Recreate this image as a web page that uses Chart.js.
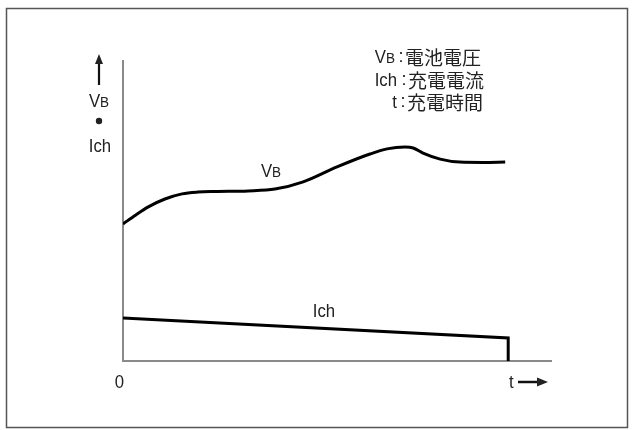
<!DOCTYPE html>
<html>
<head>
<meta charset="utf-8">
<script src="https://cdn.jsdelivr.net/npm/chart.js@4/dist/chart.umd.min.js"></script>
<style>
  html, body { margin: 0; padding: 0; background: #fff; }
  #wrap { width: 633px; height: 430px; position: relative; }
</style>
</head>
<body>
<div id="wrap"><canvas id="c" width="633" height="430"></canvas></div>
<script>
// Charging time (arbitrary units, 0..100) and values (arbitrary units, 0..100)
const vbTime  = [0, 3.0, 5.8, 9.8, 13.8, 17.5, 21.5, 29.2, 35.5, 42.1, 50.0, 57.7, 61.7, 65.9, 67.8, 70.1, 74.1, 78.7, 84.1, 89.3];
const vbValue = [45.7, 48.7, 51.3, 54.0, 55.7, 56.3, 56.5, 56.7, 57.3, 59.7, 64.7, 69.0, 70.7, 71.3, 71.0, 69.3, 67.3, 66.3, 66.2, 66.3];
const ichTime  = [0, 90, 90];
const ichValue = [14.3, 7.7, 0];

const legendLabels = ['VB', 'Ich', 't'];
const legendTexts  = ['電池電圧', '充電電流', '充電時間'];
const axisOrigin = '0';

const toPts = (xs, ys) => xs.map((x, i) => ({ x: x, y: ys[i] }));

const LATIN = '"Liberation Sans", Arial, Helvetica, sans-serif';
const CJK = '"Noto Sans CJK JP", "Noto Sans CJK SC", sans-serif';
const SX = 0.93;

function txt(ctx, s, x, y, size, align, font, sx) {
  ctx.save();
  ctx.translate(x, y);
  ctx.scale(sx, 1);
  ctx.font = size + 'px ' + font;
  ctx.textAlign = align;
  ctx.textBaseline = 'alphabetic';
  ctx.fillText(s, 0, 0);
  ctx.restore();
}

function drawVB(ctx, xRef, base, big, small, align) {
  ctx.font = big + 'px ' + LATIN;
  const wV = ctx.measureText('V').width * SX;
  ctx.font = small + 'px ' + LATIN;
  const wB = ctx.measureText('B').width * SX;
  const total = wV + wB;
  let x0;
  if (align === 'right') x0 = xRef - total;
  else if (align === 'center') x0 = xRef - total / 2;
  else x0 = xRef;
  txt(ctx, 'V', x0, base, big, 'left', LATIN, SX);
  txt(ctx, 'B', x0 + wV, base, small, 'left', LATIN, SX);
}

const decor = {
  id: 'decor',
  beforeDraw(chart) {
    const ctx = chart.ctx;
    ctx.save();
    ctx.fillStyle = '#fff';
    ctx.fillRect(0, 0, chart.width, chart.height);
    ctx.strokeStyle = '#555';
    ctx.lineWidth = 1.5;
    ctx.strokeRect(6.5, 8.5, 621, 419);
    ctx.restore();
  },
  afterDraw(chart) {
    const ctx = chart.ctx;
    ctx.save();
    ctx.fillStyle = '#222';
    ctx.strokeStyle = '#111';
    // up arrow on y axis side
    ctx.lineWidth = 2.2;
    ctx.beginPath();
    ctx.moveTo(99, 85); ctx.lineTo(99, 62); ctx.stroke();
    ctx.beginPath();
    ctx.moveTo(99, 54); ctx.lineTo(95, 64); ctx.lineTo(103, 64); ctx.closePath(); ctx.fill();
    // VB • Ich
    drawVB(ctx, 99, 107, 18, 14.5, 'center');
    ctx.beginPath(); ctx.arc(99, 121, 3.2, 0, Math.PI * 2); ctx.fill();
    txt(ctx, 'Ich', 100, 152, 18, 'center', LATIN, SX);

    // legend
    const bases = [63, 86, 108];
    const rights = [395, 397, 397];
    const colons = [401, 404, 403];
    const cjkX = [405, 408, 407];
    for (let i = 0; i < legendLabels.length; i++) {
      if (legendLabels[i] === 'VB') {
        drawVB(ctx, rights[i], bases[i], 18, 14.5, 'right');
      } else {
        txt(ctx, legendLabels[i], rights[i], bases[i], 18, 'right', LATIN, SX);
      }
      txt(ctx, ':', colons[i], bases[i] - 1, 18, 'center', LATIN, 1);
      txt(ctx, legendTexts[i], cjkX[i], bases[i] + 2, 19, 'left', CJK, 1);
    }

    // curve labels
    drawVB(ctx, 271, 177, 18, 14.5, 'center');
    txt(ctx, 'Ich', 324, 317, 18, 'center', LATIN, SX);

    // origin and t arrow
    txt(ctx, axisOrigin, 119.5, 388, 18, 'center', LATIN, SX);
    txt(ctx, 't', 509, 388, 18, 'left', LATIN, SX);
    ctx.lineWidth = 2.5;
    ctx.beginPath(); ctx.moveTo(518, 382); ctx.lineTo(540, 382); ctx.stroke();
    ctx.beginPath(); ctx.moveTo(548, 382); ctx.lineTo(537, 377.5); ctx.lineTo(537, 386.5); ctx.closePath(); ctx.fill();
    ctx.restore();
  }
};

new Chart(document.getElementById('c'), {
  type: 'line',
  data: {
    datasets: [
      { label: 'VB', data: toPts(vbTime, vbValue), borderColor: '#000', borderWidth: 3, pointRadius: 0, tension: 0.4, cubicInterpolationMode: 'monotone', fill: false },
      { label: 'Ich', data: toPts(ichTime, ichValue), borderColor: '#000', borderWidth: 3, pointRadius: 0, tension: 0, fill: false, borderJoinStyle: 'miter' }
    ]
  },
  options: {
    responsive: false,
    animation: false,
    layout: { padding: { left: 123, right: 82, top: 61, bottom: 69 } },
    plugins: { legend: { display: false }, tooltip: { enabled: false } },
    scales: {
      x: { type: 'linear', min: 0, max: 100, ticks: { display: false }, grid: { display: false, drawTicks: false }, border: { display: true, color: '#8a8a8a', width: 2 } },
      y: { type: 'linear', min: 0, max: 100, ticks: { display: false }, grid: { display: false, drawTicks: false }, border: { display: true, color: '#8a8a8a', width: 2 } }
    }
  },
  plugins: [decor]
});
</script>
</body>
</html>
